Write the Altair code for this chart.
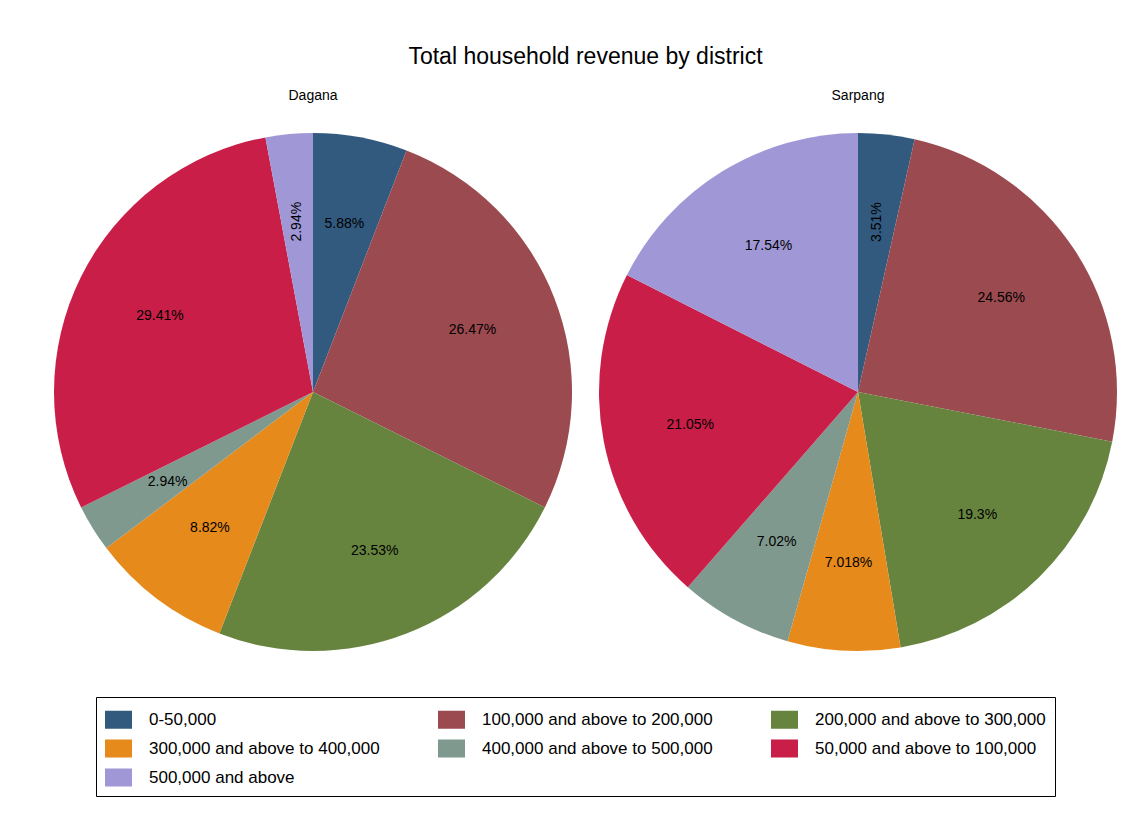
import altair as alt
import pandas as pd

districts = ["Dagana"] * 7 + ["Sarpang"] * 7
categories = [
    "0-50,000",
    "100,000 and above to 200,000",
    "200,000 and above to 300,000",
    "300,000 and above to 400,000",
    "400,000 and above to 500,000",
    "50,000 and above to 100,000",
    "500,000 and above",
]
dagana_pct = [5.88, 26.47, 23.53, 8.82, 2.94, 29.41, 2.94]
sarpang_pct = [3.51, 24.56, 19.3, 7.018, 7.02, 21.05, 17.54]
colors = ["#325A7E", "#9B4A4F", "#67843F", "#E68A1B", "#7F998F", "#C91E48", "#A098D6"]

df = pd.DataFrame({
    "district": districts,
    "category": categories * 2,
    "value": dagana_pct + sarpang_pct,
})
df["label"] = [f"{v:g}%" for v in df["value"]]

FONT = "Liberation Sans"

color = alt.Color(
    "category:N",
    scale=alt.Scale(domain=categories, range=colors),
    sort=categories,
    legend=alt.Legend(
        title=None,
        orient="none",
        legendX=42,
        legendY=564,
        columns=3,
        direction="horizontal",
        symbolType="M-1,-0.667H1V0.667H-1Z",
        symbolSize=729,
        symbolStrokeWidth=0,
        symbolOpacity=1,
        labelFontSize=17,
        labelFont=FONT,
        labelColor="black",
        labelLimit=400,
        labelOffset=17,
        columnPadding=58,
        rowPadding=6,
        padding=9,
        strokeColor="black",
        fillColor="white",
    ),
)

base = alt.Chart().encode(
    theta=alt.Theta("value:Q", stack=True),
)

arc = base.mark_arc(outerRadius=259, stroke=None).encode(
    color=color,
    order=alt.Order("category:N", sort="ascending"),
)

text = base.mark_text(radius=171, fontSize=14, font=FONT, color="black").encode(
    text="label:N",
    detail="category:N",
    order=alt.Order("category:N", sort="ascending"),
    angle=alt.Angle("rot:Q", scale=None),
).transform_joinaggregate(
    total="sum(value)", groupby=["district"]
).transform_window(
    cum="sum(value)", sort=[alt.SortField("category")], frame=[None, 0], groupby=["district"]
).transform_calculate(
    mid="(datum.cum - datum.value / 2) / datum.total * 360"
).transform_calculate(
    rot="(datum.value < 5 && (datum.mid < 30 || datum.mid > 330)) ? 270 : 0"
)

chart = alt.layer(arc, text, data=df).properties(width=518, height=518).facet(
    column=alt.Column(
        "district:N",
        title=None,
        header=alt.Header(labelFontSize=14, labelFont=FONT, labelColor="black", labelPadding=30),
    ),
    spacing=27,
).properties(
    title=alt.Title(
        "Total household revenue by district",
        fontSize=23,
        font=FONT,
        fontWeight="normal",
        color="black",
        anchor="middle",
        offset=20,
    ),
    padding={"left": 54, "top": 46, "right": 20, "bottom": 20},
    background="white",
).configure_view(stroke=None)

chart.save("out.html", embed_options={"renderer": "svg", "actions": False})
